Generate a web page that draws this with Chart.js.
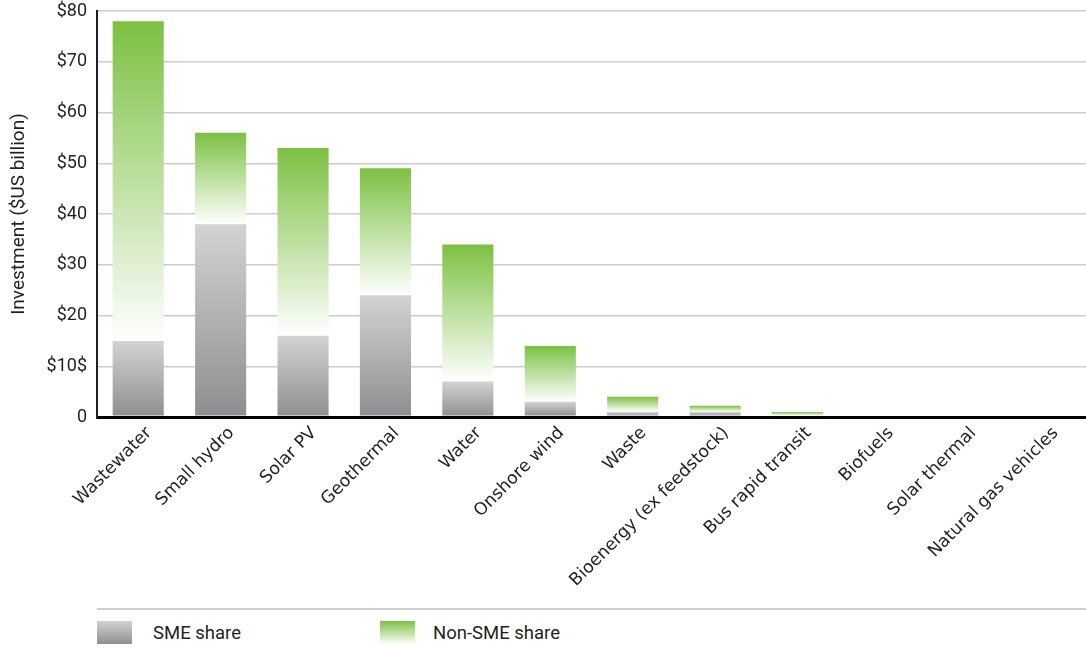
<!DOCTYPE html>
<html>
<head>
<meta charset="utf-8">
<script src="https://cdn.jsdelivr.net/npm/chart.js@4.4.1/dist/chart.umd.min.js"></script>
<style>
  html, body { margin: 0; padding: 0; background: #fff; }
  body { width: 1086px; height: 648px; position: relative; overflow: hidden; font-family: Roboto, "Open Sans", sans-serif; color: #231f20; }
  #wrap { position: absolute; left: 0; top: 0; width: 1086px; height: 600px; }
  .rule { position: absolute; left: 97px; top: 608px; width: 989px; height: 2px; background: #cfcfcf; }
  .box { position: absolute; top: 621px; width: 35px; height: 23px; }
  .box.sme { left: 97px; background: linear-gradient(#d2d2d2, #8e8f92); }
  .box.non { left: 380px; background: linear-gradient(#7cc142, #ffffff); }
  .lbl { position: absolute; top: 622px; font-size: 18.5px; line-height: 23px; }
</style>
</head>
<body>
<div id="wrap"><canvas id="chart"></canvas></div>
<div class="rule"></div>
<div class="box sme"></div><div class="lbl" style="left:153px">SME share</div>
<div class="box non"></div><div class="lbl" style="left:433px">Non-SME share</div>
<script>
const categories = ["Wastewater", "Small hydro", "Solar PV", "Geothermal", "Water", "Onshore wind",
  "Waste", "Bioenergy (ex feedstock)", "Bus rapid transit", "Biofuels", "Solar thermal", "Natural gas vehicles"];
const smeShare = [15, 38, 16, 24, 7, 3, 1, 1, 0.3, 0, 0, 0];
const nonSmeShare = [63, 18, 37, 25, 27, 11, 3, 1.2, 0.7, 0, 0, 0];
const yTickLabels = ["0", "$10$", "$20", "$30", "$40", "$50", "$60", "$70", "$80"];

// Gradient per bar, from top of segment to its bottom.
function segmentFill(c, topColor, bottomColor, lo, hi) {
  const chart = c.chart;
  const y = chart.scales.y;
  if (!y || c.type !== "data") return topColor;
  const i = c.dataIndex;
  const top = y.getPixelForValue(hi(i));
  const bottom = y.getPixelForValue(lo(i));
  if (!isFinite(top) || !isFinite(bottom) || bottom - top < 0.5) return topColor;
  const g = chart.ctx.createLinearGradient(0, top, 0, bottom);
  g.addColorStop(0, topColor);
  g.addColorStop(1, bottomColor);
  return g;
}

new Chart(document.getElementById("chart"), {
  type: "bar",
  data: {
    labels: categories,
    datasets: [
      {
        label: "SME share",
        data: smeShare,
        backgroundColor: (c) => segmentFill(c, "#d3d3d3", "#8d8e91", () => 0, (i) => smeShare[i]),
        borderWidth: 0,
        categoryPercentage: 1,
        barPercentage: 0.62,
      },
      {
        label: "Non-SME share",
        data: nonSmeShare,
        backgroundColor: (c) => segmentFill(c, "#7cc142", "#ffffff",
          (i) => smeShare[i], (i) => smeShare[i] + nonSmeShare[i]),
        borderWidth: 0,
        categoryPercentage: 1,
        barPercentage: 0.62,
      },
    ],
  },
  options: {
    responsive: true,
    maintainAspectRatio: false,
    animation: false,
    layout: { padding: { top: 11, right: 0, left: 0, bottom: 0 } },
    plugins: { legend: { display: false }, tooltip: { enabled: false } },
    scales: {
      x: {
        stacked: true,
        grid: { display: false, drawTicks: false },
        border: { color: "#000", width: 3 },
        ticks: {
          color: "#231f20",
          font: { family: "DejaVu Sans", size: 17.3 },
          maxRotation: 45,
          minRotation: 45,
          padding: 6,
          labelOffset: 11,
          autoSkip: false,
        },
        afterFit: (s) => { s.height = 183; },
      },
      y: {
        stacked: true,
        min: 0,
        max: 80,
        border: { color: "#231f20", width: 2 },
        grid: {
          color: (c) => (c.tick && c.tick.value === 0 ? "#000" : "#cdcdcd"),
          lineWidth: (c) => (c.tick && c.tick.value === 0 ? 3 : 1.5),
          drawTicks: false,
        },
        ticks: {
          stepSize: 10,
          color: "#231f20",
          font: { family: "Roboto", size: 18 },
          padding: 10,
          callback: (v) => yTickLabels[Math.round(v / 10)],
        },
        title: {
          display: true,
          text: "Investment ($US billion)",
          color: "#231f20",
          font: { family: "Roboto", size: 19 },
          padding: { top: 8, bottom: 0 },
        },
        afterFit: (s) => { s.width = 97; s.paddingTop = 0; },
      },
    },
  },
});
</script>
</body>
</html>
